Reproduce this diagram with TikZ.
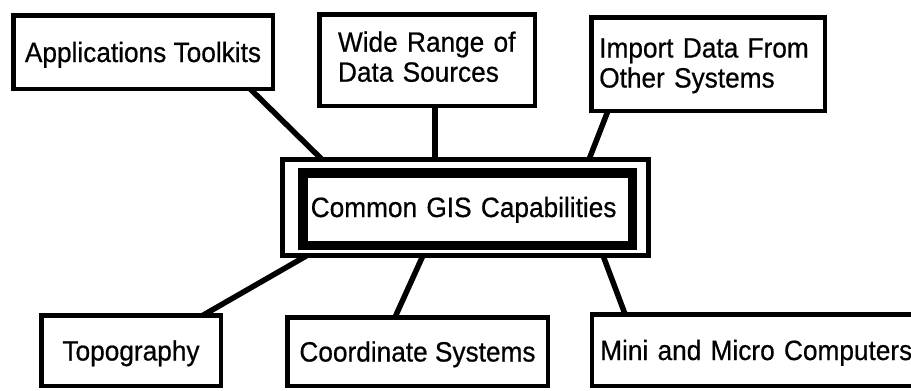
\documentclass[tikz,border=0pt]{standalone}
\usepackage{fontspec}
\setmainfont{Liberation Sans}[FakeStretch=0.94,FakeBold=0.6]
\usetikzlibrary{calc}
\begin{document}
\begin{tikzpicture}[x=1pt,y=-1pt,
  box/.style={draw, line width=4.5pt, rectangle, inner sep=0pt, outer sep=0pt,
    text height=20pt, text depth=0pt, font=\fontsize{27.9pt}{30pt}\selectfont},
  link/.style={line width=5.5pt}]
\useasboundingbox (0,0) rectangle (911,391);
\clip (0,0) rectangle (911,391);
\fill[white] (0,0) rectangle (911,391);
% top row
\node[box, minimum width=259.5pt, minimum height=73.5pt] (app) at (143,52) {Applications Toolkits};
\node[box, minimum width=215.5pt, minimum height=91.5pt, text width=178pt, align=left,
  text depth=36.6pt] (wide) at (427,60) {Wide Range of\\Data Sources};
\node[box, minimum width=233.5pt, minimum height=93.5pt, text width=217.5pt, align=left,
  text depth=33pt] (imp) at (708,64) {Import Data From\\Other Systems};
% centre double box
\node[draw, line width=5pt, minimum width=366pt, minimum height=96pt, inner sep=0pt,
  outer sep=0pt] (cap) at (465.5,207.5) {};
\node[box, line width=9.5pt, minimum width=329.5pt, minimum height=72.5pt, text width=313.5pt,
  align=left, text depth=4pt] (capin) at (467.5,209) {Common GIS Capabilities};
% bottom row
\node[box, minimum width=179.5pt, minimum height=70.5pt] (topo) at (131,350.5) {Topography};
\node[box, minimum width=260.5pt, minimum height=68.5pt] (coord) at (417.5,351.5) {Coordinate Systems};
\node[box, minimum width=337.75pt, minimum height=71.5pt, text width=321.75pt, align=left]
  (mini) at (761.1,350) {Mini and Micro Computers};
% connectors
\draw[link] ([xshift=107pt]app.south) -- ([xshift=-143.5pt]cap.north);
\draw[link] ([xshift=8pt]wide.south) -- ([xshift=-30.5pt]cap.north);
\draw[link] ([xshift=-100pt]imp.south) -- ([xshift=123.5pt]cap.north);
\draw[link] ([xshift=-158.5pt]cap.south) -- ([xshift=72pt]topo.north);
\draw[link] ([xshift=-42.5pt]cap.south) -- ([xshift=-22.5pt]coord.north);
\draw[link] ([xshift=137.5pt]cap.south) -- ([xshift=-136pt]mini.north);
\end{tikzpicture}
\end{document}
